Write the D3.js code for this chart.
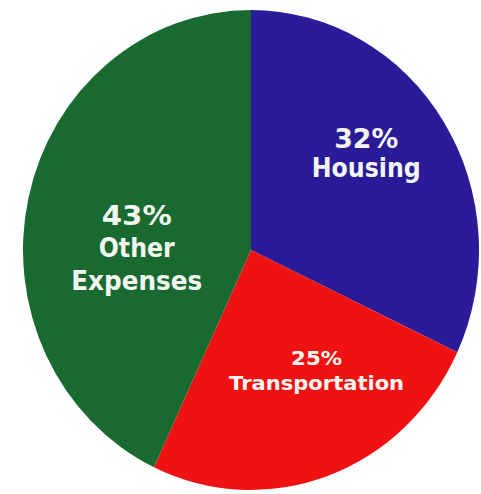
<!DOCTYPE html>
<html>
<head>
<meta charset="utf-8">
<script src="https://cdn.jsdelivr.net/npm/d3@7"></script>
<style>
  html, body { margin: 0; padding: 0; background: #ffffff; }
  svg { display: block; }
</style>
</head>
<body>
<svg id="chart" width="481" height="494"></svg>
<script>
// Household budget shares, clockwise from 12 o'clock
const categories = ["Housing", "Transportation", "Other Expenses"];
const shares = [32, 25, 43];
const labelLines = [["32%", "Housing"], ["25%", "Transportation"], ["43%", "Other", "Expenses"]];
const colors = ["#2a1b98", "#f01212", "#196a31"];

const W = 481, H = 494;
const cx = 251, cy = 250, rx = 228, ry = 240;

// per-slice label styling and offset from the wedge centroid
const labelStyle = [
  { size: 26, lead: 29, dx: 19, dy: -38, widths: [64, 109] },
  { size: 19, lead: 25, dx: 27, dy: 2, widths: [51, 175] },
  { size: 26, lead: 32.5, dx: -3, dy: 1, widths: [70, 76, 131] }
];

const svg = d3.select("#chart");

const pie = d3.pie().sort(null).value(d => d)(shares);
const arc = d3.arc().innerRadius(0).outerRadius(rx);

// the pie is slightly taller than wide
const g = svg.append("g")
  .attr("transform", `translate(${cx},${cy}) scale(1,${ry / rx})`);

g.selectAll("path")
  .data(pie)
  .join("path")
  .attr("d", arc)
  .attr("fill", (d, i) => colors[i]);

const labels = svg.append("g")
  .attr("font-family", "'DejaVu Sans', Verdana, sans-serif")
  .attr("font-weight", "bold")
  .attr("fill", "#f3f6f0")
  .attr("text-anchor", "middle");

pie.forEach((d, i) => {
  const [px, py] = arc.centroid(d);
  const st = labelStyle[i];
  const x = cx + px + st.dx;
  const y0 = cy + py * (ry / rx) + st.dy;
  labelLines[i].forEach((line, j) => {
    labels.append("text")
      .attr("x", x)
      .attr("y", y0 + j * st.lead)
      .attr("font-size", st.size)
      .attr("textLength", st.widths[j])
      .attr("lengthAdjust", "spacingAndGlyphs")
      .text(line);
  });
});
</script>
</body>
</html>
